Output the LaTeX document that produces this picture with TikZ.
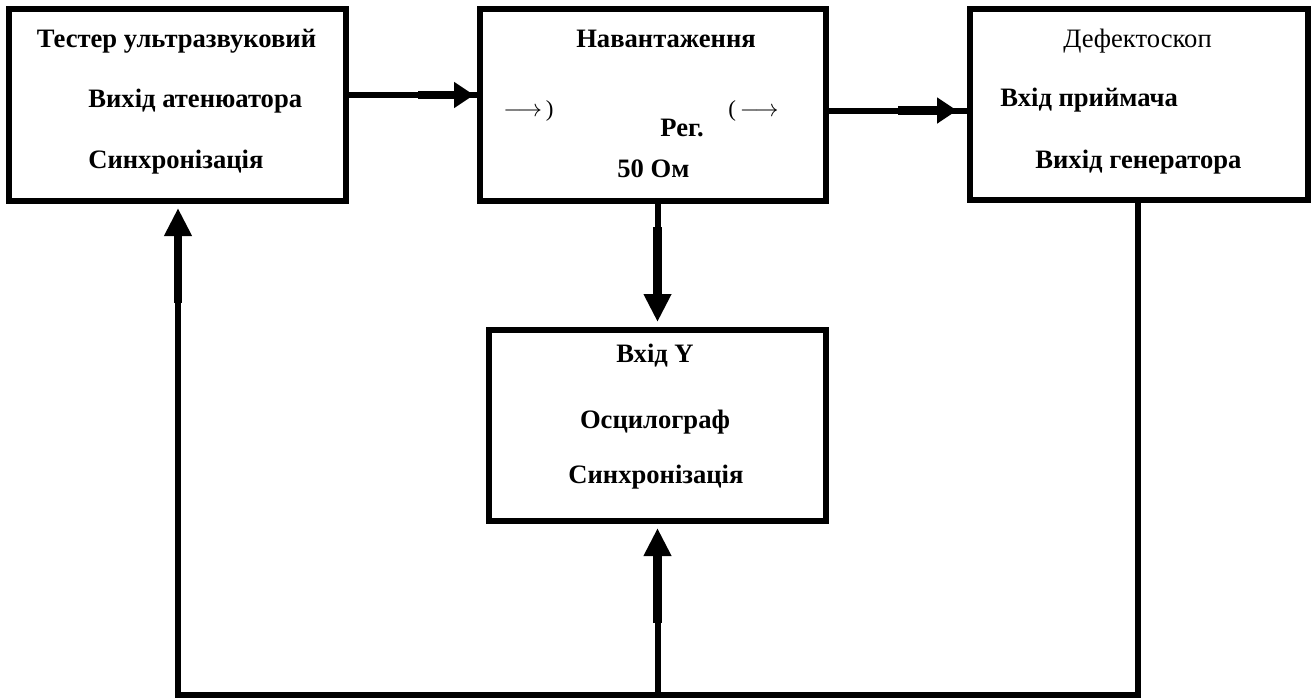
\documentclass[tikz,border=0pt]{standalone}
\usepackage{fontspec}
\setmainfont{Liberation Serif}
\usepackage{tikz}
\usetikzlibrary{arrows.meta}
\usetikzlibrary{positioning}

\begin{document}
\begin{tikzpicture}[x=0.5pt, y=-0.5pt,
    blk/.style={draw, line width=3pt, inner sep=0pt},
    wire/.style={line width=3pt},
    feedh/.style={line width=4.25pt, -{Triangle[length=10pt, width=12.5pt]}},
    feedv/.style={line width=4.25pt, -{Triangle[length=14pt, width=13pt]}}]
    \useasboundingbox (0,0) rectangle (1311,698);

    \node[blk, minimum width=168.25pt, minimum height=95.75pt] (T) at (177.25,104.75) {};
    \node[blk, minimum width=173pt, minimum height=95.75pt] (N) at (652.5,104.75) {};
    \node[blk, minimum width=169.25pt, minimum height=95.5pt] (D) at (1138.75,104.5) {};
    \node[blk, minimum width=168.25pt, minimum height=95.5pt] (O) at (657.25,425.5) {};

    \begin{scope}[every node/.style={inner sep=0pt, font=\fontsize{13.3pt}{16pt}\selectfont\bfseries}]
    \node[anchor=base] (t1) at (176.5,47) {Тестер ультразвуковий};
    \node[anchor=base west] (t2) at (88,107) {Вихід атенюатора};
    \node[anchor=base west] (t3) at (88,168) {Синхронізація};

    \node[anchor=base] (n1) at (666,47) {Навантаження};
    \node[anchor=base west, font=\fontsize{11.5pt}{14pt}\selectfont] (n2) at (503,116) {$\longrightarrow$\,)};
    \node[anchor=base west, font=\fontsize{11.5pt}{14pt}\selectfont] (n3) at (728,116) {(\,$\longrightarrow$};
    \node[anchor=base west] (n4) at (660,136) {Рег.};
    \node[anchor=base west] (n5) at (617,177) {50 Ом};

    \node[anchor=base, font=\fontsize{13.3pt}{16pt}\selectfont] (d1) at (1137.5,47) {Дефектоскоп};
    \node[anchor=base west] (d2) at (1000,106) {Вхід приймача};
    \node[anchor=base west] (d3) at (1035,168) {Вихід генератора};

    \node[anchor=base] (o1) at (655,362) {Вхід Y};
    \node[anchor=base] (o2) at (655,428) {Осцилограф};
    \node[anchor=base] (o3) at (656,483) {Синхронізація};
    \end{scope}

    \coordinate (a1) at (418,95);
    \coordinate (a2) at (898,110.5);
    \coordinate (a2e) at (957,110.5);
    \coordinate (a3) at (657.5,227);
    \coordinate (a4) at (178,303);
    \coordinate (a5) at (657.5,623);
    \coordinate (c1) at (178,695);
    \coordinate (c2) at (1137.5,695);

    \draw[wire] (T.east |- a1) -- (N.west |- a1);
    \draw[feedh, shorten >=1.25pt] (a1) -- (N.west |- a1);
    \draw[wire] (N.east |- a2) -- (D.west |- a2);
    \draw[feedh] (a2) -- (a2e);
    \draw[wire] (N.south -| a3) -- (a3);
    \draw[feedv, shorten >=2.5pt] (a3) -- (O.north -| a3);

    \draw[wire] (D.south -| c2) -- (c2) -- (c1) -- (a4);
    \draw[feedv, shorten >=2.25pt] (a4) -- (T.south -| a4);
    \draw[wire] (c1 -| a5) -- (a5);
    \draw[feedv, shorten >=2pt] (a5) -- (O.south -| a5);
\end{tikzpicture}
\end{document}
